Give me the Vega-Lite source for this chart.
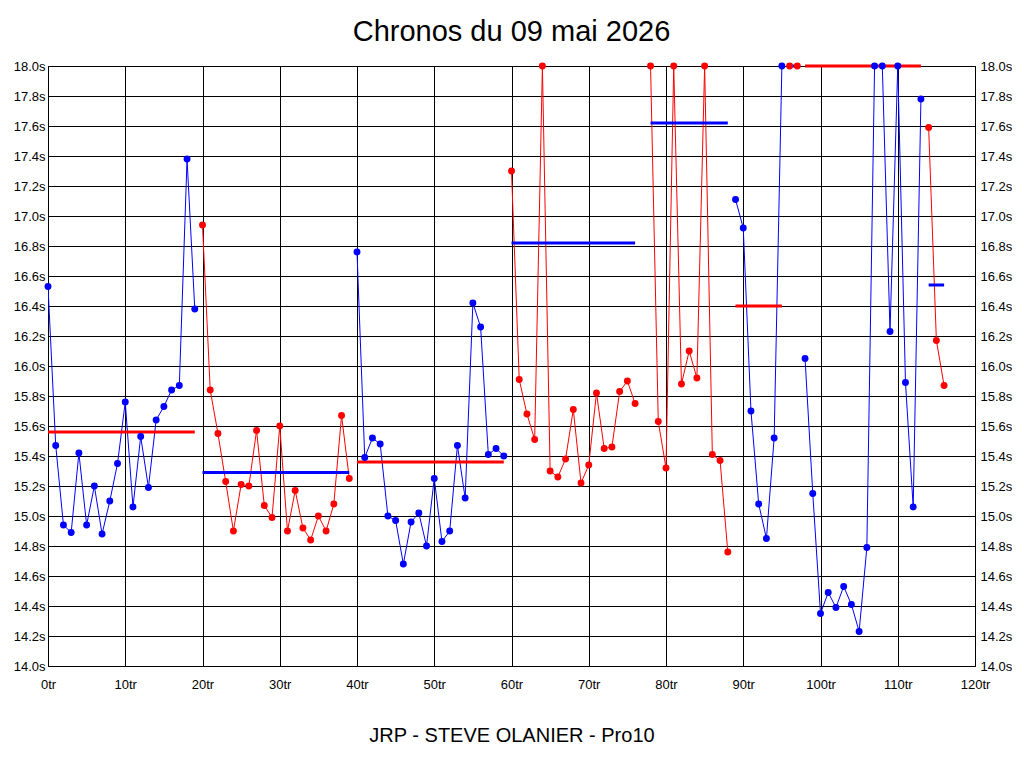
{
  "$schema": "https://vega.github.io/schema/vega-lite/v6.json",
  "width": 927,
  "height": 600,
  "autosize": "none",
  "padding": {"left": 48, "top": 66, "right": 49, "bottom": 102},
  "background": "white",
  "title": {
    "text": "Chronos du 09 mai 2026",
    "font": "Liberation Sans",
    "fontSize": 29,
    "fontWeight": "normal",
    "color": "black",
    "anchor": "middle",
    "baseline": "alphabetic",
    "offset": 25,
    "dy": 35
  },
  "datasets": {
    "tours": [
      {"t": 0, "v": 16.53, "seg": 1, "c": "bleu"},
      {"t": 1, "v": 15.47, "seg": 1, "c": "bleu"},
      {"t": 2, "v": 14.94, "seg": 1, "c": "bleu"},
      {"t": 3, "v": 14.89, "seg": 1, "c": "bleu"},
      {"t": 4, "v": 15.42, "seg": 1, "c": "bleu"},
      {"t": 5, "v": 14.94, "seg": 1, "c": "bleu"},
      {"t": 6, "v": 15.20, "seg": 1, "c": "bleu"},
      {"t": 7, "v": 14.88, "seg": 1, "c": "bleu"},
      {"t": 8, "v": 15.10, "seg": 1, "c": "bleu"},
      {"t": 9, "v": 15.35, "seg": 1, "c": "bleu"},
      {"t": 10, "v": 15.76, "seg": 1, "c": "bleu"},
      {"t": 11, "v": 15.06, "seg": 1, "c": "bleu"},
      {"t": 12, "v": 15.53, "seg": 1, "c": "bleu"},
      {"t": 13, "v": 15.19, "seg": 1, "c": "bleu"},
      {"t": 14, "v": 15.64, "seg": 1, "c": "bleu"},
      {"t": 15, "v": 15.73, "seg": 1, "c": "bleu"},
      {"t": 16, "v": 15.84, "seg": 1, "c": "bleu"},
      {"t": 17, "v": 15.87, "seg": 1, "c": "bleu"},
      {"t": 18, "v": 17.38, "seg": 1, "c": "bleu"},
      {"t": 19, "v": 16.38, "seg": 1, "c": "bleu"},
      {"t": 20, "v": 16.94, "seg": 2, "c": "rouge"},
      {"t": 21, "v": 15.84, "seg": 2, "c": "rouge"},
      {"t": 22, "v": 15.55, "seg": 2, "c": "rouge"},
      {"t": 23, "v": 15.23, "seg": 2, "c": "rouge"},
      {"t": 24, "v": 14.90, "seg": 2, "c": "rouge"},
      {"t": 25, "v": 15.21, "seg": 2, "c": "rouge"},
      {"t": 26, "v": 15.20, "seg": 2, "c": "rouge"},
      {"t": 27, "v": 15.57, "seg": 2, "c": "rouge"},
      {"t": 28, "v": 15.07, "seg": 2, "c": "rouge"},
      {"t": 29, "v": 14.99, "seg": 2, "c": "rouge"},
      {"t": 30, "v": 15.60, "seg": 2, "c": "rouge"},
      {"t": 31, "v": 14.90, "seg": 2, "c": "rouge"},
      {"t": 32, "v": 15.17, "seg": 2, "c": "rouge"},
      {"t": 33, "v": 14.92, "seg": 2, "c": "rouge"},
      {"t": 34, "v": 14.84, "seg": 2, "c": "rouge"},
      {"t": 35, "v": 15.00, "seg": 2, "c": "rouge"},
      {"t": 36, "v": 14.90, "seg": 2, "c": "rouge"},
      {"t": 37, "v": 15.08, "seg": 2, "c": "rouge"},
      {"t": 38, "v": 15.67, "seg": 2, "c": "rouge"},
      {"t": 39, "v": 15.25, "seg": 2, "c": "rouge"},
      {"t": 40, "v": 16.76, "seg": 3, "c": "bleu"},
      {"t": 41, "v": 15.39, "seg": 3, "c": "bleu"},
      {"t": 42, "v": 15.52, "seg": 3, "c": "bleu"},
      {"t": 43, "v": 15.48, "seg": 3, "c": "bleu"},
      {"t": 44, "v": 15.00, "seg": 3, "c": "bleu"},
      {"t": 45, "v": 14.97, "seg": 3, "c": "bleu"},
      {"t": 46, "v": 14.68, "seg": 3, "c": "bleu"},
      {"t": 47, "v": 14.96, "seg": 3, "c": "bleu"},
      {"t": 48, "v": 15.02, "seg": 3, "c": "bleu"},
      {"t": 49, "v": 14.80, "seg": 3, "c": "bleu"},
      {"t": 50, "v": 15.25, "seg": 3, "c": "bleu"},
      {"t": 51, "v": 14.83, "seg": 3, "c": "bleu"},
      {"t": 52, "v": 14.90, "seg": 3, "c": "bleu"},
      {"t": 53, "v": 15.47, "seg": 3, "c": "bleu"},
      {"t": 54, "v": 15.12, "seg": 3, "c": "bleu"},
      {"t": 55, "v": 16.42, "seg": 3, "c": "bleu"},
      {"t": 56, "v": 16.26, "seg": 3, "c": "bleu"},
      {"t": 57, "v": 15.41, "seg": 3, "c": "bleu"},
      {"t": 58, "v": 15.45, "seg": 3, "c": "bleu"},
      {"t": 59, "v": 15.40, "seg": 3, "c": "bleu"},
      {"t": 60, "v": 17.30, "seg": 4, "c": "rouge"},
      {"t": 61, "v": 15.91, "seg": 4, "c": "rouge"},
      {"t": 62, "v": 15.68, "seg": 4, "c": "rouge"},
      {"t": 63, "v": 15.51, "seg": 4, "c": "rouge"},
      {"t": 64, "v": 18.00, "seg": 4, "c": "rouge"},
      {"t": 65, "v": 15.30, "seg": 4, "c": "rouge"},
      {"t": 66, "v": 15.26, "seg": 4, "c": "rouge"},
      {"t": 67, "v": 15.38, "seg": 4, "c": "rouge"},
      {"t": 68, "v": 15.71, "seg": 4, "c": "rouge"},
      {"t": 69, "v": 15.22, "seg": 4, "c": "rouge"},
      {"t": 70, "v": 15.34, "seg": 4, "c": "rouge"},
      {"t": 71, "v": 15.82, "seg": 4, "c": "rouge"},
      {"t": 72, "v": 15.45, "seg": 4, "c": "rouge"},
      {"t": 73, "v": 15.46, "seg": 4, "c": "rouge"},
      {"t": 74, "v": 15.83, "seg": 4, "c": "rouge"},
      {"t": 75, "v": 15.90, "seg": 4, "c": "rouge"},
      {"t": 76, "v": 15.75, "seg": 4, "c": "rouge"},
      {"t": 78, "v": 18.00, "seg": 5, "c": "rouge"},
      {"t": 79, "v": 15.63, "seg": 5, "c": "rouge"},
      {"t": 80, "v": 15.32, "seg": 5, "c": "rouge"},
      {"t": 81, "v": 18.00, "seg": 5, "c": "rouge"},
      {"t": 82, "v": 15.88, "seg": 5, "c": "rouge"},
      {"t": 83, "v": 16.10, "seg": 5, "c": "rouge"},
      {"t": 84, "v": 15.92, "seg": 5, "c": "rouge"},
      {"t": 85, "v": 18.00, "seg": 5, "c": "rouge"},
      {"t": 86, "v": 15.41, "seg": 5, "c": "rouge"},
      {"t": 87, "v": 15.37, "seg": 5, "c": "rouge"},
      {"t": 88, "v": 14.76, "seg": 5, "c": "rouge"},
      {"t": 89, "v": 17.11, "seg": 6, "c": "bleu"},
      {"t": 90, "v": 16.92, "seg": 6, "c": "bleu"},
      {"t": 91, "v": 15.70, "seg": 6, "c": "bleu"},
      {"t": 92, "v": 15.08, "seg": 6, "c": "bleu"},
      {"t": 93, "v": 14.85, "seg": 6, "c": "bleu"},
      {"t": 94, "v": 15.52, "seg": 6, "c": "bleu"},
      {"t": 95, "v": 18.00, "seg": 6, "c": "bleu"},
      {"t": 96, "v": 18.00, "seg": 7, "c": "rouge"},
      {"t": 97, "v": 18.00, "seg": 7, "c": "rouge"},
      {"t": 98, "v": 16.05, "seg": 8, "c": "bleu"},
      {"t": 99, "v": 15.15, "seg": 8, "c": "bleu"},
      {"t": 100, "v": 14.35, "seg": 8, "c": "bleu"},
      {"t": 101, "v": 14.49, "seg": 8, "c": "bleu"},
      {"t": 102, "v": 14.39, "seg": 8, "c": "bleu"},
      {"t": 103, "v": 14.53, "seg": 8, "c": "bleu"},
      {"t": 104, "v": 14.41, "seg": 8, "c": "bleu"},
      {"t": 105, "v": 14.23, "seg": 8, "c": "bleu"},
      {"t": 106, "v": 14.79, "seg": 8, "c": "bleu"},
      {"t": 107, "v": 18.00, "seg": 8, "c": "bleu"},
      {"t": 108, "v": 18.00, "seg": 8, "c": "bleu"},
      {"t": 109, "v": 16.23, "seg": 8, "c": "bleu"},
      {"t": 110, "v": 18.00, "seg": 8, "c": "bleu"},
      {"t": 111, "v": 15.89, "seg": 8, "c": "bleu"},
      {"t": 112, "v": 15.06, "seg": 8, "c": "bleu"},
      {"t": 113, "v": 17.78, "seg": 8, "c": "bleu"},
      {"t": 114, "v": 17.59, "seg": 9, "c": "rouge"},
      {"t": 115, "v": 16.17, "seg": 9, "c": "rouge"},
      {"t": 116, "v": 15.87, "seg": 9, "c": "rouge"}
    ],
    "moyennes": [
      {"debut": 0, "fin": 19, "moyenne": 15.56, "c": "rouge"},
      {"debut": 20, "fin": 39, "moyenne": 15.29, "c": "bleu"},
      {"debut": 40, "fin": 59, "moyenne": 15.36, "c": "rouge"},
      {"debut": 60, "fin": 76, "moyenne": 16.82, "c": "bleu"},
      {"debut": 78, "fin": 88, "moyenne": 17.62, "c": "bleu"},
      {"debut": 89, "fin": 95, "moyenne": 16.40, "c": "rouge"},
      {"debut": 96, "fin": 97, "moyenne": 18.00, "c": "bleu"},
      {"debut": 98, "fin": 113, "moyenne": 18.00, "c": "rouge"},
      {"debut": 114, "fin": 116, "moyenne": 16.54, "c": "bleu"}
    ]
  },
  "layer": [
    {
      "data": {"name": "tours"},
      "mark": {"type": "line", "strokeWidth": 1, "clip": true},
      "encoding": {
        "x": {
          "field": "t", "type": "quantitative",
          "scale": {"domain": [0, 120], "nice": false},
          "axis": {"values": [0, 10, 20, 30, 40, 50, 60, 70, 80, 90, 100, 110, 120], "labelExpr": "datum.value + 'tr'"},
          "title": "JRP - STEVE OLANIER - Pro10"
        },
        "y": {
          "field": "v", "type": "quantitative",
          "scale": {"domain": [14, 18], "nice": false, "zero": false, "clamp": true},
          "axis": {
            "orient": "left", "grid": true,
            "values": [14, 14.2, 14.4, 14.6, 14.8, 15, 15.2, 15.4, 15.6, 15.8, 16, 16.2, 16.4, 16.6, 16.8, 17, 17.2, 17.4, 17.6, 17.8, 18],
            "labelExpr": "format(datum.value, '.1f') + 's'"
          },
          "title": null
        },
        "detail": {"field": "seg"},
        "color": {"field": "c", "type": "nominal", "scale": {"domain": ["bleu", "rouge"], "range": ["#0000ff", "#ff0000"]}, "legend": null}
      }
    },
    {
      "data": {"name": "moyennes"},
      "mark": {"type": "rule", "strokeWidth": 3},
      "encoding": {
        "x": {"field": "debut", "type": "quantitative", "title": "JRP - STEVE OLANIER - Pro10"},
        "x2": {"field": "fin"},
        "y": {"field": "moyenne", "type": "quantitative", "axis": null, "title": null},
        "color": {"field": "c", "type": "nominal", "legend": null}
      }
    },
    {
      "data": {"name": "tours"},
      "mark": {"type": "circle", "size": 48, "opacity": 1},
      "encoding": {
        "x": {"field": "t", "type": "quantitative", "title": "JRP - STEVE OLANIER - Pro10"},
        "y": {
          "field": "v", "type": "quantitative",
          "axis": {
            "orient": "right", "grid": false, "labelPadding": 5,
            "values": [14, 14.2, 14.4, 14.6, 14.8, 15, 15.2, 15.4, 15.6, 15.8, 16, 16.2, 16.4, 16.6, 16.8, 17, 17.2, 17.4, 17.6, 17.8, 18],
            "labelExpr": "format(datum.value, '.1f') + 's'"
          },
          "title": null
        },
        "color": {"field": "c", "type": "nominal", "legend": null}
      }
    }
  ],
  "resolve": {"axis": {"y": "independent"}},
  "config": {
    "view": {"stroke": "black", "strokeWidth": 1},
    "axis": {
      "labelFont": "Liberation Sans",
      "labelFontSize": 13,
      "labelColor": "black",
      "ticks": false,
      "tickSize": 0,
      "domain": false,
      "gridColor": "black",
      "gridOpacity": 1,
      "gridWidth": 1,
      "labelOverlap": false,
      "labelFlush": false,
      "titleFont": "Liberation Sans",
      "titleFontWeight": "normal",
      "titleColor": "black"
    },
    "axisX": {
      "grid": true,
      "labelPadding": 12,
      "titleFontSize": 20,
      "titlePadding": 34
    },
    "axisY": {
      "labelPadding": 3
    }
  }
}
